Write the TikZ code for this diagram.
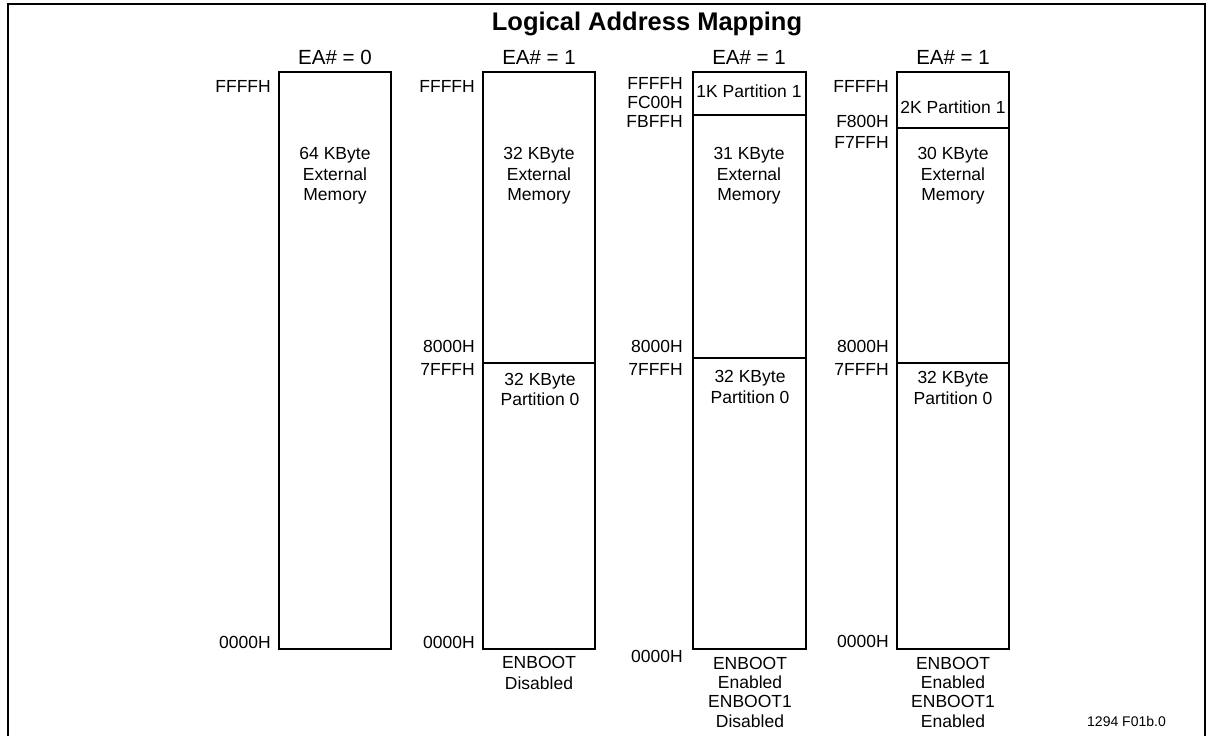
\documentclass[tikz,border=0pt]{standalone}
\usepackage{fontspec}
\setmainfont{Liberation Sans}
\begin{document}
\begin{tikzpicture}[x=1pt,y=-1pt,
  lbl/.style={font=\fontsize{17.5}{20}\selectfont, inner sep=0pt, anchor=base east},
  txt/.style={font=\fontsize{17.5}{20}\selectfont, inner sep=0pt, anchor=base},
  ea/.style={font=\fontsize{20.5}{24}\selectfont, inner sep=0pt, anchor=base},
  ttl/.style={font=\fontsize{25.5}{30}\selectfont\bfseries, inner sep=0pt, anchor=base},
  tag/.style={font=\fontsize{14}{16}\selectfont, inner sep=0pt, anchor=base west},
  membox/.style={draw, line width=1.7pt},
  frame/.style={draw, line width=2.6pt}]
\useasboundingbox (0,0) rectangle (1212,736);
% frame
\draw[frame] (8,736) -- (8,4) -- (1205,4) -- (1205,736);
\node[ttl] (title) at (647,30) {Logical Address Mapping};
% box 1
\draw[membox] (279,72) rectangle (391,649);
\node[ea] (ea1) at (335,64) {EA\# = 0};
\node[lbl] (a1top) at (271,92) {FFFFH};
\node[lbl] (a1bot) at (271,648) {0000H};
\node[txt] (t1a) at (335,159) {64 KByte};
\node[txt] (t1b) at (335,180) {External};
\node[txt] (t1c) at (335,200) {Memory};
% box 2
\draw[membox] (483,72) rectangle (595,649);
\draw[membox] (483,363) -- (595,363);
\node[ea] (ea2) at (539,64) {EA\# = 1};
\node[lbl] (a2top) at (475,92) {FFFFH};
\node[lbl] (a2m1) at (475,352) {8000H};
\node[lbl] (a2m2) at (475,375) {7FFFH};
\node[lbl] (a2bot) at (475,648) {0000H};
\node[txt] (t2a) at (539,159) {32 KByte};
\node[txt] (t2b) at (539,180) {External};
\node[txt] (t2c) at (539,200) {Memory};
\node[txt] (t2d) at (540,385) {32 KByte};
\node[txt] (t2e) at (540,405) {Partition 0};
\node[txt] (t2f) at (539,668) {ENBOOT};
\node[txt] (t2g) at (539,689) {Disabled};
% box 3
\draw[membox] (693,72) rectangle (806,649);
\draw[membox] (693,115) -- (806,115);
\draw[membox] (693,358) -- (806,358);
\node[ea] (ea3) at (749,64) {EA\# = 1};
\node[lbl] (a3top) at (683,89) {FFFFH};
\node[lbl] (a3m0) at (683,108) {FC00H};
\node[lbl] (a3m1) at (683,127) {FBFFH};
\node[lbl] (a3m2) at (683,352) {8000H};
\node[lbl] (a3m3) at (683,375) {7FFFH};
\node[lbl] (a3bot) at (683,662) {0000H};
\node[txt] (t3p) at (749,97) {1K Partition 1};
\node[txt] (t3a) at (749,159) {31 KByte};
\node[txt] (t3b) at (749,180) {External};
\node[txt] (t3c) at (749,200) {Memory};
\node[txt] (t3d) at (750,382) {32 KByte};
\node[txt] (t3e) at (750,403) {Partition 0};
\node[txt] (t3f) at (750,669) {ENBOOT};
\node[txt] (t3g) at (750,688) {Enabled};
\node[txt] (t3h) at (750,707) {ENBOOT1};
\node[txt] (t3i) at (750,727) {Disabled};
% box 4
\draw[membox] (897,72) rectangle (1009,649);
\draw[membox] (897,128) -- (1009,128);
\draw[membox] (897,363) -- (1009,363);
\node[ea] (ea4) at (953,64) {EA\# = 1};
\node[lbl] (a4top) at (889,92) {FFFFH};
\node[lbl] (a4m0) at (889,127) {F800H};
\node[lbl] (a4m1) at (889,148) {F7FFH};
\node[lbl] (a4m2) at (889,352) {8000H};
\node[lbl] (a4m3) at (889,375) {7FFFH};
\node[lbl] (a4bot) at (889,647) {0000H};
\node[txt] (t4p) at (953,113) {2K Partition 1};
\node[txt] (t4a) at (953,159) {30 KByte};
\node[txt] (t4b) at (953,180) {External};
\node[txt] (t4c) at (953,200) {Memory};
\node[txt] (t4d) at (953,383) {32 KByte};
\node[txt] (t4e) at (953,404) {Partition 0};
\node[txt] (t4f) at (953,669) {ENBOOT};
\node[txt] (t4g) at (953,688) {Enabled};
\node[txt] (t4h) at (953,707) {ENBOOT1};
\node[txt] (t4i) at (953,727) {Enabled};
\node[tag] (fig) at (1087,726) {1294 F01b.0};
\end{tikzpicture}
\end{document}
